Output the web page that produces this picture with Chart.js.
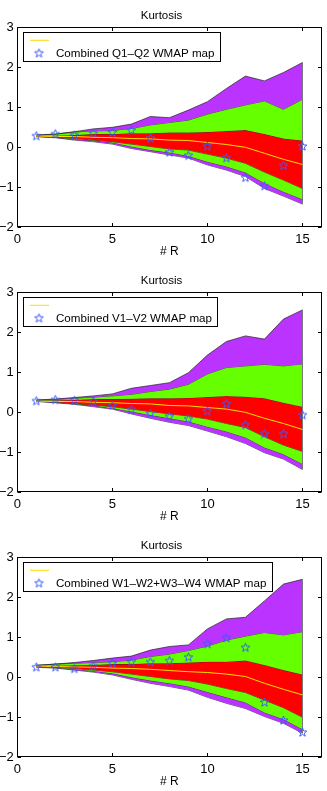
<!DOCTYPE html>
<html><head><meta charset="utf-8">
<script src="https://cdn.jsdelivr.net/npm/chart.js@4/dist/chart.umd.min.js"></script>
<style>
html,body{margin:0;padding:0;background:#fff;width:327px;height:791px;overflow:hidden;position:relative;}
canvas{position:absolute;left:0;}
</style></head><body>
<canvas id="c1" width="327" height="265" style="top:0px"></canvas>
<canvas id="c2" width="327" height="265" style="top:265px"></canvas>
<canvas id="c3" width="327" height="265" style="top:530px"></canvas>
<script>
// ---------- data ----------
const R = [1,2,3,4,5,6,7,8,9,10,11,12,13,14,15];
const xTicks = [0,5,10,15];
const yTicks = [-2,-1,0,1,2,3];
const chartTitle = 'Kurtosis';
const xLabel = '# R';
const legendLabels = ['Combined Q1\u2013Q2 WMAP map','Combined V1\u2013V2 WMAP map','Combined W1\u2013W2+W3\u2013W4 WMAP map'];

// panel 1 (Q1-Q2)
const p1_u3 = [0.31,0.33,0.39,0.46,0.50,0.58,0.77,0.74,0.93,1.14,1.47,1.78,1.66,1.87,2.12];
const p1_u2 = [0.30,0.33,0.38,0.41,0.42,0.47,0.56,0.62,0.68,0.83,0.95,1.06,1.16,0.95,1.20];
const p1_u1 = [0.28,0.29,0.31,0.33,0.33,0.35,0.35,0.37,0.37,0.38,0.41,0.43,0.33,0.22,0.17];
const p1_med = [0.28,0.27,0.27,0.25,0.24,0.22,0.21,0.18,0.17,0.12,0.07,0.00,-0.15,-0.30,-0.43];
const p1_l1 = [0.27,0.26,0.22,0.18,0.14,0.08,0.02,-0.04,-0.07,-0.17,-0.27,-0.40,-0.62,-0.82,-1.03];
const p1_l2 = [0.27,0.25,0.20,0.17,0.12,0.02,-0.07,-0.13,-0.22,-0.36,-0.48,-0.63,-0.90,-1.11,-1.30];
const p1_l3 = [0.27,0.24,0.18,0.14,0.08,-0.03,-0.11,-0.19,-0.27,-0.44,-0.57,-0.73,-1.03,-1.22,-1.42];
const p1_map = [0.28,0.33,0.30,0.35,0.37,0.42,0.22,-0.13,-0.21,0.02,-0.27,-0.76,-0.97,-0.46,0.02];

// panel 2 (V1-V2)
const p2_u3 = [0.31,0.33,0.37,0.41,0.46,0.60,0.67,0.74,0.99,1.43,1.77,1.91,1.83,2.33,2.56];
const p2_u2 = [0.30,0.32,0.35,0.38,0.41,0.45,0.52,0.58,0.70,0.96,1.12,1.16,1.20,1.16,1.21];
const p2_u1 = [0.29,0.30,0.31,0.33,0.33,0.34,0.35,0.35,0.36,0.38,0.41,0.39,0.35,0.24,0.14];
const p2_med = [0.28,0.27,0.27,0.25,0.24,0.22,0.21,0.17,0.16,0.12,0.08,0.00,-0.15,-0.28,-0.43];
const p2_l1 = [0.28,0.26,0.22,0.18,0.14,0.08,0.02,-0.04,-0.09,-0.17,-0.28,-0.38,-0.61,-0.82,-0.98];
const p2_l2 = [0.28,0.25,0.21,0.17,0.10,0.02,-0.07,-0.15,-0.23,-0.36,-0.48,-0.63,-0.88,-1.05,-1.29];
const p2_l3 = [0.27,0.24,0.20,0.14,0.08,-0.04,-0.15,-0.25,-0.33,-0.47,-0.61,-0.78,-1.01,-1.17,-1.43];
const p2_map = [0.28,0.31,0.29,0.27,0.17,0.06,-0.03,-0.11,-0.17,0.03,0.21,-0.32,-0.54,-0.54,-0.07];

// panel 3 (W1-W2+W3-W4)
const p3_u3 = [0.30,0.33,0.37,0.42,0.48,0.53,0.68,0.77,0.81,1.21,1.46,1.50,1.91,2.33,2.45];
const p3_u2 = [0.30,0.33,0.35,0.37,0.39,0.43,0.52,0.58,0.67,0.78,0.93,1.03,1.12,1.06,1.14];
const p3_u1 = [0.28,0.29,0.30,0.31,0.33,0.33,0.35,0.35,0.37,0.39,0.39,0.42,0.31,0.18,0.07];
const p3_med = [0.28,0.27,0.26,0.25,0.23,0.22,0.20,0.17,0.14,0.12,0.08,0.02,-0.15,-0.30,-0.44];
const p3_l1 = [0.27,0.25,0.22,0.18,0.14,0.08,0.02,-0.04,-0.08,-0.17,-0.28,-0.38,-0.57,-0.76,-1.00];
const p3_l2 = [0.27,0.24,0.20,0.16,0.10,0.00,-0.08,-0.15,-0.23,-0.37,-0.50,-0.63,-0.88,-1.05,-1.30];
const p3_l3 = [0.25,0.23,0.18,0.13,0.06,-0.05,-0.15,-0.23,-0.32,-0.50,-0.65,-0.78,-0.98,-1.15,-1.40];
const p3_map = [0.25,0.25,0.21,0.28,0.35,0.38,0.38,0.41,0.50,0.83,0.98,0.74,-0.63,-1.08,-1.38];

// ---------- styling ----------
const PURPLE = '#bb33ff', GREEN = '#66ff00', RED = '#ff0000', EDGE = '#222222', MED = '#ffdd00', STAR = '#3a5cff';
const FONT = '"Liberation Sans", Arial, Helvetica, sans-serif';
Chart.defaults.font.family = FONT;
Chart.defaults.color = '#000';

function makeStar(color, r) {
  const s = Math.ceil(r * 2 + 3);
  const c = document.createElement('canvas');
  c.width = s; c.height = s;
  const g = c.getContext('2d');
  g.strokeStyle = color; g.lineWidth = 1;
  g.beginPath();
  for (let k = 0; k < 10; k++) {
    const ang = -Math.PI / 2 + k * Math.PI / 5;
    const rr = (k % 2) ? r * 0.42 : r;
    g.lineTo(s / 2 + rr * Math.cos(ang), s / 2 + rr * Math.sin(ang));
  }
  g.closePath(); g.stroke();
  return c;
}
const starImg = makeStar(STAR, 4.6);

function pts(arr) { return R.map((x, i) => ({x: x, y: arr[i]})); }
function band(arr, color, fill) {
  return {data: pts(arr), borderColor: EDGE, borderWidth: 0.7, backgroundColor: color,
          fill: fill, pointRadius: 0, tension: 0, order: 10, label: ''};
}

const decoPlugin = {
  id: 'deco',
  afterDatasetDraw(chart, args) {
    if (args.index !== 0) return;
    const {ctx, scales: {x, y}} = chart;
    const d0 = chart.data.datasets[0].data, d5 = chart.data.datasets[5].data;
    const last = d0.length - 1;
    const px = x.getPixelForValue(d0[last].x);
    ctx.save();
    ctx.strokeStyle = '#777'; ctx.lineWidth = 1;
    ctx.beginPath();
    ctx.moveTo(px, y.getPixelForValue(d0[last].y));
    ctx.lineTo(px, y.getPixelForValue(d5[last].y));
    ctx.stroke();
    ctx.restore();
  },
  afterDraw(chart) {
    const {ctx, chartArea: a, scales: {x, y}} = chart;
    ctx.save();
    // axes box
    const L = Math.round(a.left) + 0.5, Rr = Math.round(a.right) - 0.5, T = Math.round(a.top) + 0.5, B = Math.round(a.bottom) - 0.5;
    ctx.strokeStyle = '#000'; ctx.lineWidth = 1;
    ctx.strokeRect(L, T, Rr - L, B - T);
    // inward ticks
    const tl = 3.5;
    ctx.beginPath();
    x.ticks.forEach(t => {
      const p = Math.round(x.getPixelForValue(t.value)) + 0.5;
      ctx.moveTo(p, B); ctx.lineTo(p, B - tl);
      ctx.moveTo(p, T); ctx.lineTo(p, T + tl);
    });
    y.ticks.forEach(t => {
      const p = Math.round(y.getPixelForValue(t.value)) + 0.5;
      ctx.moveTo(L, p); ctx.lineTo(L + tl, p);
      ctx.moveTo(Rr, p); ctx.lineTo(Rr - tl, p);
    });
    ctx.stroke();
    // legend
    const ds = chart.data.datasets;
    const medDs = ds[6], mapDs = ds[7];
    ctx.font = '11.6px ' + FONT;
    const textX = a.left + 38.7;
    const tw = ctx.measureText(mapDs.label).width;
    const x0 = Math.round(a.left + 6) + 0.5, y0 = Math.round(a.top + 5) + 0.5;
    const bw = Math.round(textX + tw + 6 - x0), bh = 29;
    ctx.fillStyle = '#fff';
    ctx.fillRect(x0, y0, bw, bh);
    ctx.strokeStyle = '#000'; ctx.lineWidth = 1;
    ctx.strokeRect(x0, y0, bw, bh);
    ctx.strokeStyle = MED; ctx.lineWidth = 1;
    ctx.beginPath();
    ctx.moveTo(a.left + 12.7, a.top + 13); ctx.lineTo(a.left + 31.7, a.top + 13);
    ctx.stroke();
    ctx.fillStyle = '#000'; ctx.textBaseline = 'middle'; ctx.textAlign = 'left';
    ctx.fillText(medDs.label, textX, a.top + 13);
    ctx.drawImage(starImg, a.left + 21.7 - starImg.width / 2, a.top + 26 - starImg.height / 2);
    ctx.fillText(mapDs.label, textX, a.top + 26.5);
    ctx.restore();
  }
};

function makeChart(id, u3, u2, u1, med, l1, l2, l3, mp, label) {
  return new Chart(document.getElementById(id), {
    type: 'line',
    data: {
      datasets: [
        band(u3, PURPLE, '+1'),
        band(u2, GREEN, '+1'),
        band(u1, RED, '+1'),
        band(l1, GREEN, '+1'),
        band(l2, PURPLE, '+1'),
        band(l3, PURPLE, false),
        {label: '', data: pts(med), borderColor: MED, borderWidth: 1, pointRadius: 0, fill: false, tension: 0, order: 5},
        {label: label, data: pts(mp), showLine: false, pointStyle: starImg, pointRadius: 4.5,
         borderColor: STAR, backgroundColor: STAR, fill: false, order: 0}
      ]
    },
    options: {
      responsive: false,
      animation: false,
      events: [],
      layout: {padding: {left: 0, right: 4, top: 0, bottom: 0}},
      plugins: {
        legend: {display: false},
        tooltip: {enabled: false},
        title: {display: true, text: chartTitle, color: '#000', font: {size: 11.5, weight: 'normal', family: FONT},
                padding: {top: 8.5, bottom: 5}}
      },
      scales: {
        x: {
          type: 'linear', min: 0, max: 16,
          grid: {display: false, drawTicks: false}, border: {display: false},
          afterBuildTicks: s => { s.ticks = xTicks.map(v => ({value: v})); },
          afterFit: s => { s.height = 37.7; },
          ticks: {font: {size: 13, family: FONT}, color: '#000', padding: 4.5, maxRotation: 0,
                  callback: v => String(v)},
          title: {display: true, text: xLabel, color: '#000', font: {size: 12, family: FONT}, padding: {top: 0, bottom: 5.8}}
        },
        y: {
          type: 'linear', min: -2, max: 3,
          grid: {display: false, drawTicks: false}, border: {display: false},
          afterBuildTicks: s => { s.ticks = yTicks.map(v => ({value: v})); },
          afterFit: s => { s.width = 17.3; },
          ticks: {font: {size: 13, family: FONT}, color: '#000', padding: 3.5,
                  callback: v => v < 0 ? '\u2212' + Math.abs(v) : String(v)}
        }
      }
    },
    plugins: [decoPlugin]
  });
}

makeChart('c1', p1_u3, p1_u2, p1_u1, p1_med, p1_l1, p1_l2, p1_l3, p1_map, legendLabels[0]);
makeChart('c2', p2_u3, p2_u2, p2_u1, p2_med, p2_l1, p2_l2, p2_l3, p2_map, legendLabels[1]);
makeChart('c3', p3_u3, p3_u2, p3_u1, p3_med, p3_l1, p3_l2, p3_l3, p3_map, legendLabels[2]);
</script>
</body></html>
